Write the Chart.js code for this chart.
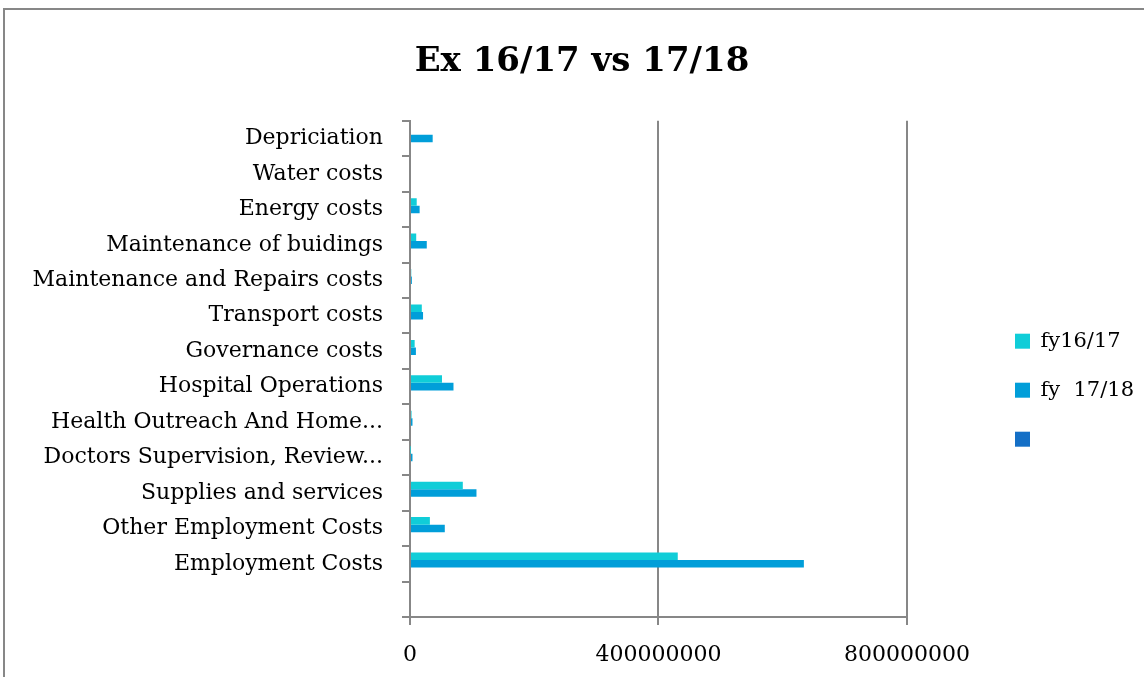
<!DOCTYPE html>
<html lang="en">
<head>
    <meta charset="UTF-8">
    <title>Ex 16/17 vs 17/18</title>
    <script src="https://cdn.jsdelivr.net/npm/chart.js"></script>
    <style>
        body {
            margin: 0;
            background-color: white;
            overflow: hidden;
        }
        .frame {
            position: absolute;
            left: 3px;
            top: 8px;
            width: 1300px;
            height: 800px;
            border: 2px solid #878787;
        }
        #costChart {
            position: absolute;
            left: 0;
            top: 0;
        }
    </style>
</head>
<body>
    <div class="frame"></div>
    <canvas id="costChart" width="1144" height="677"></canvas>

    <script>
        const categories = [
            'Depriciation',
            'Water costs',
            'Energy costs',
            'Maintenance of buidings',
            'Maintenance and Repairs costs',
            'Transport costs',
            'Governance costs',
            'Hospital Operations',
            'Health Outreach And Home...',
            'Doctors Supervision, Review...',
            'Supplies and services',
            'Other Employment Costs',
            'Employment Costs',
            ''
        ];
        const fy1617 = [0, 0, 10800000, 10000000, 2000000, 19000000, 7500000, 51500000, 2500000, 500000, 85000000, 32000000, 431000000, null];
        const fy1718 = [36500000, 0, 15500000, 27000000, 3000000, 21000000, 9500000, 70000000, 4000000, 4000000, 107000000, 56000000, 634000000, null];
        const third = [0, 0, 0, 0, 0, 0, 0, 0, 0, 0, 0, 0, 0, null];
        const xTicks = [0, 400000000, 800000000];

        const axisGray = '#878787';
        const serif = 'DejaVu Serif';

        const ctx = document.getElementById('costChart').getContext('2d');
        const chart = new Chart(ctx, {
            type: 'bar',
            data: {
                labels: categories,
                datasets: [
                    { label: 'fy16/17', data: fy1617, backgroundColor: '#10cdd8' },
                    { label: 'fy  17/18', data: fy1718, backgroundColor: '#019ed9' },
                    { label: '', data: third, backgroundColor: '#146fc6' }
                ]
            },
            options: {
                indexAxis: 'y',
                responsive: false,
                animation: false,
                categoryPercentage: 0.636,
                barPercentage: 1,
                layout: {
                    padding: { left: 20, right: 0, top: 0, bottom: 9 }
                },
                scales: {
                    x: {
                        min: 0,
                        max: 800000000,
                        afterBuildTicks: scale => {
                            scale.ticks = xTicks.map(v => ({ value: v }));
                        },
                        afterFit: scale => { scale.height = 51; },
                        grid: {
                            color: axisGray,
                            lineWidth: 2,
                            tickLength: 8
                        },
                        border: { color: axisGray, width: 2 },
                        ticks: {
                            padding: 17,
                            color: '#000',
                            font: { family: serif, size: 22 },
                            callback: v => String(v)
                        }
                    },
                    y: {
                        afterFit: scale => { scale.width = 390; },
                        grid: {
                            drawOnChartArea: false,
                            color: axisGray,
                            lineWidth: 2,
                            tickLength: 8,
                            offset: true
                        },
                        border: { color: axisGray, width: 2 },
                        ticks: {
                            padding: 19,
                            color: '#000',
                            autoSkip: false,
                            font: { family: serif, size: 22 }
                        }
                    },
                    // empty box between the plot and the legend
                    gap: {
                        type: 'linear',
                        position: 'right',
                        afterFit: scale => { scale.width = 80; },
                        grid: { display: false },
                        border: { display: false },
                        ticks: { display: false }
                    }
                },
                plugins: {
                    title: {
                        display: true,
                        text: 'Ex 16/17 vs 17/18',
                        color: '#000',
                        font: { family: serif, size: 34, weight: 'bold' },
                        padding: { top: 42, bottom: 38 }
                    },
                    legend: {
                        position: 'right',
                        title: { display: true, text: '', padding: { top: 49, bottom: 49 } },
                        labels: {
                            boxWidth: 15,
                            boxHeight: 15,
                            padding: 28,
                            color: '#000',
                            font: { family: serif, size: 21 }
                        }
                    },
                    tooltip: { enabled: false }
                }
            }
        });
    </script>
</body>
</html>
